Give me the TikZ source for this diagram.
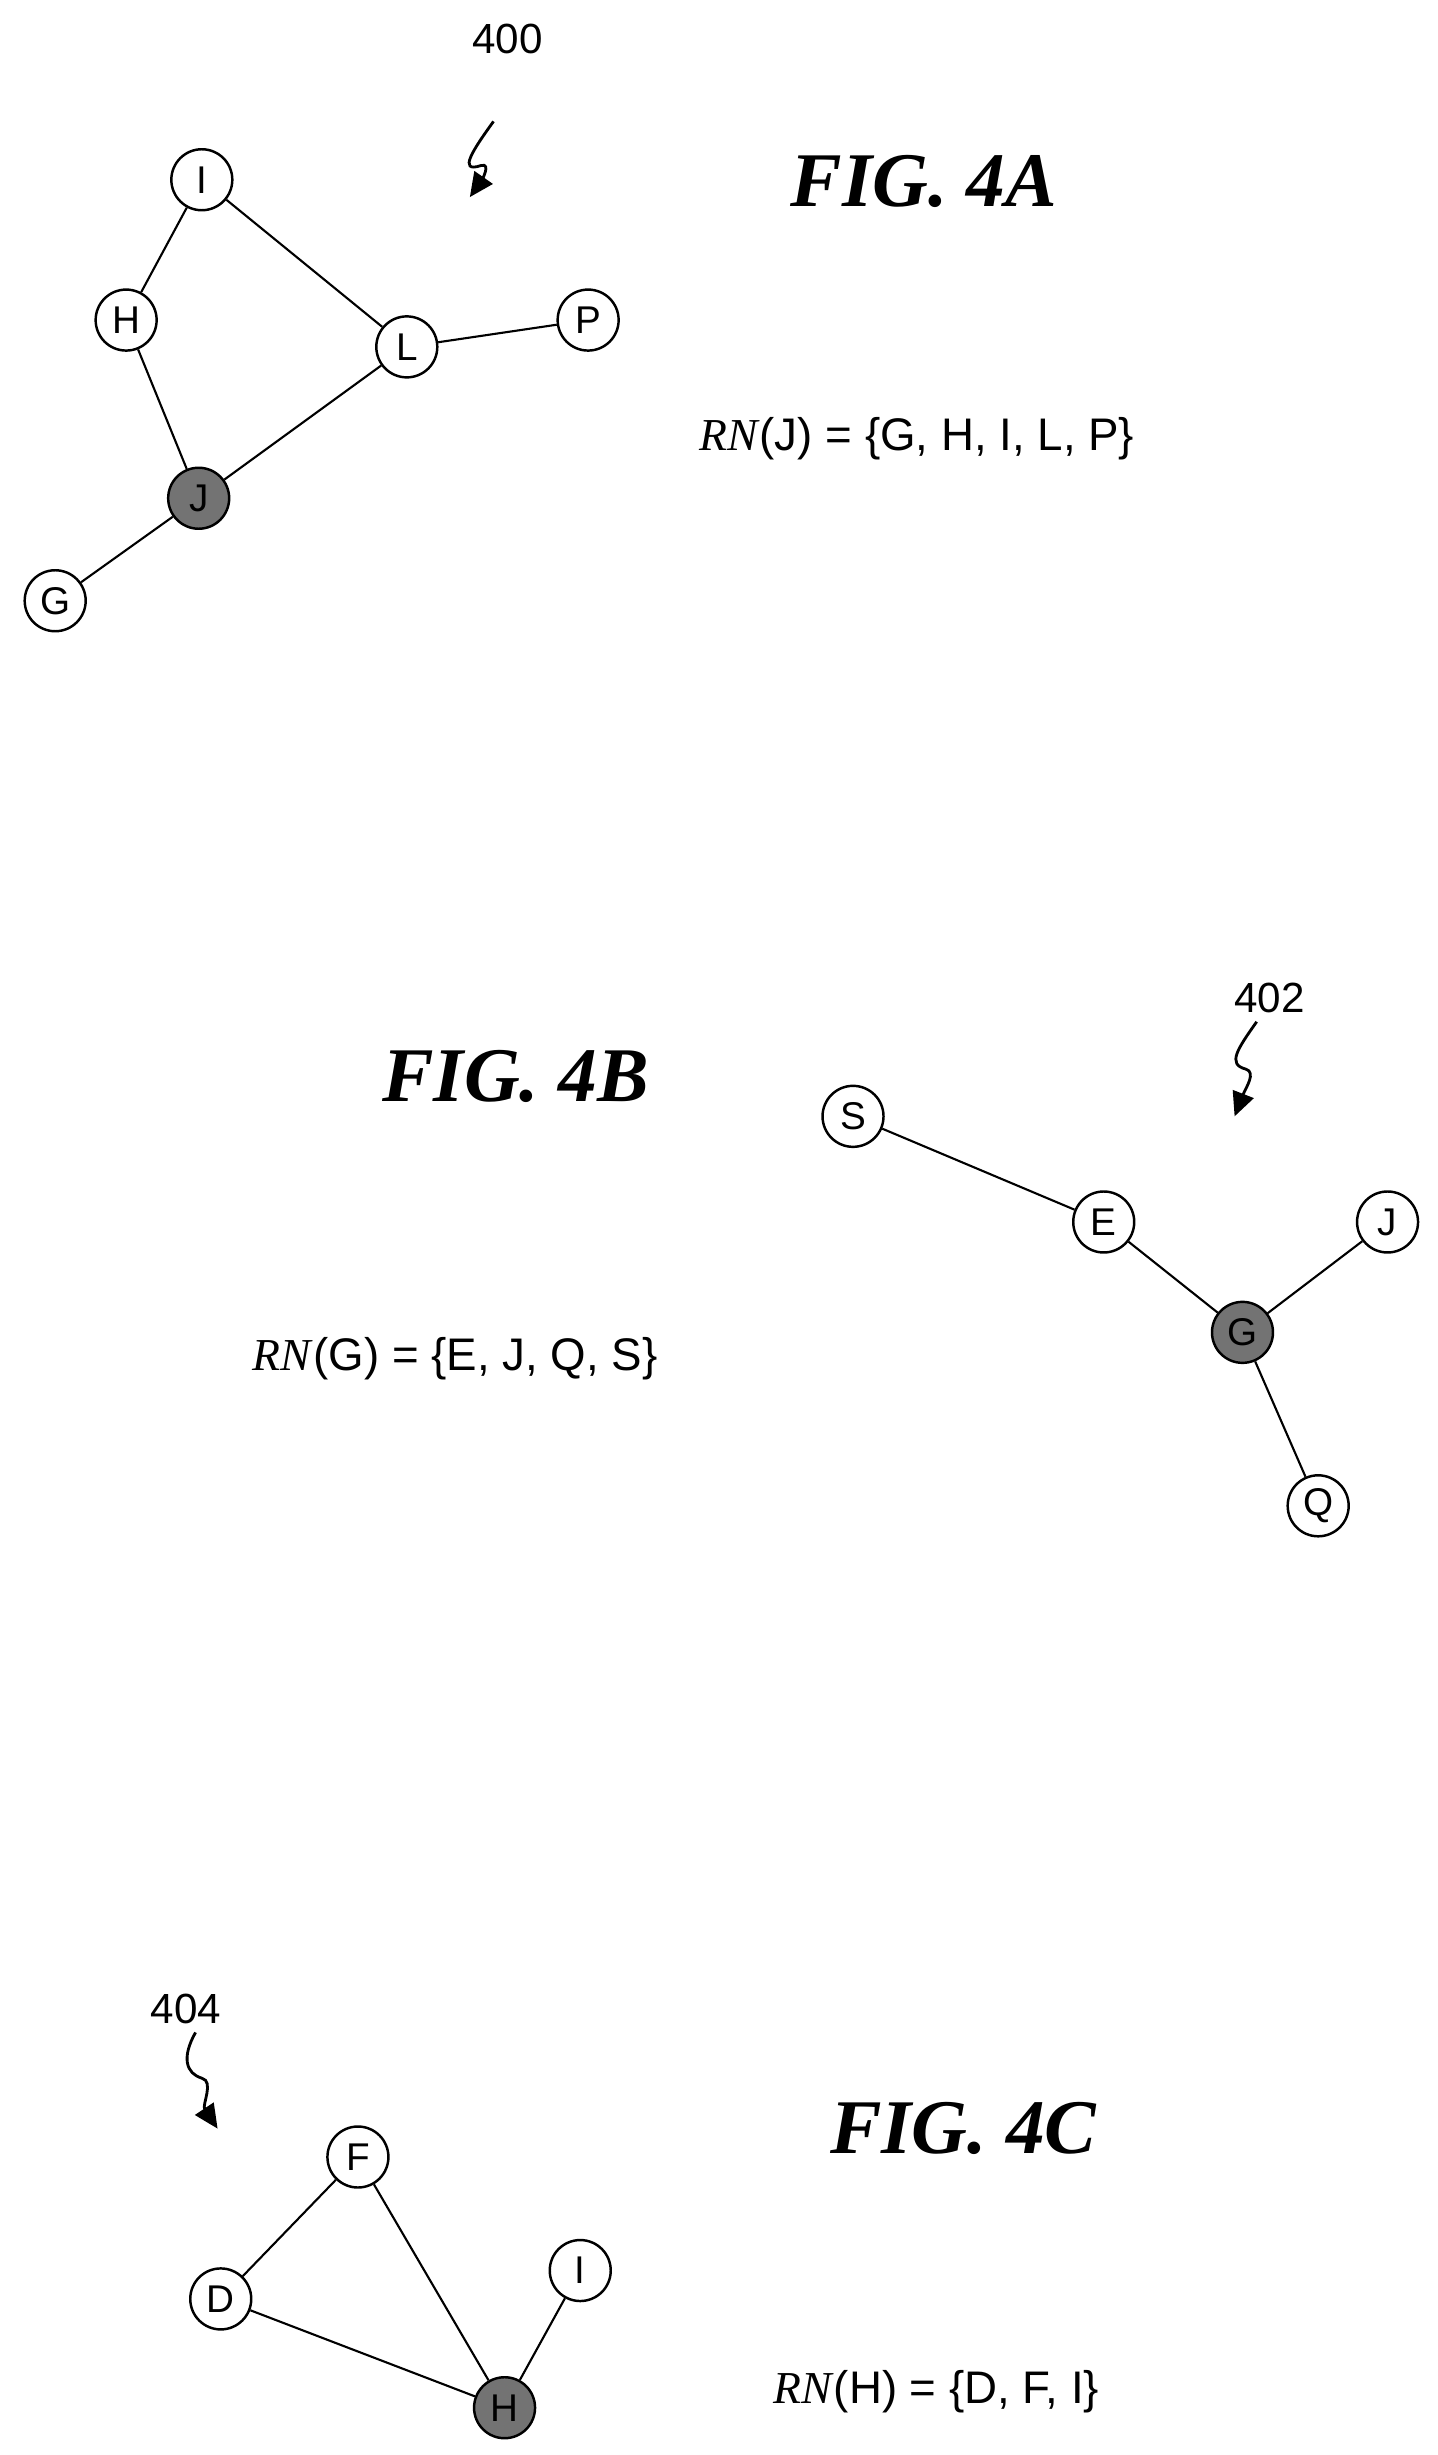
\documentclass[tikz,border=0pt]{standalone}
\usepackage{fontspec}
\setmainfont{Liberation Serif}
\newfontfamily\lsans{Liberation Sans}
\usetikzlibrary{arrows.meta}
\begin{document}
\begin{tikzpicture}[x=0.1577mm,y=-0.1577mm,
  vtx/.style={circle,draw,line width=0.7pt,minimum size=6.1mm,inner sep=0pt,font=\lsans\fontsize{11}{12}\selectfont},
  hot/.style={vtx,fill=black!55},
  edge/.style={line width=0.6pt},
  fig/.style={font=\fontsize{22}{24}\selectfont\bfseries\itshape},
  rn/.style={font=\lsans\fontsize{13}{15}\selectfont,anchor=west,inner sep=0pt},
  ref/.style={font=\lsans\fontsize{12}{13}\selectfont},
  sq/.style={line width=0.8pt,-{Triangle[length=2.4mm,width=2.2mm]}}]
\useasboundingbox (0,0) rectangle (912,1557);
% FIG 4A
\node[vtx] (I) at (128,114) {I};
\node[vtx] (H) at (80,203) {H};
\node[vtx] (L) at (258,220) {L};
\node[vtx] (P) at (373,203) {P};
\node[hot] (J) at (126,316) {J};
\node[vtx] (G) at (35,381) {G};
\draw[edge] (I)--(H) (I)--(L) (H)--(J) (J)--(L) (L)--(P) (J)--(G);
\node[ref] (n400) at (322,25) {400};
\coordinate (a0) at (313,77);
\coordinate (a1) at (298,125);
\draw[sq] (a0) .. controls (300,95) and (290,110) .. (305,105) .. controls (312,103) and (305,115) .. (a1);
\node[fig] (f4a) at (586,115) {FIG. 4A};
\node[rn] (rnj) at (443,278) {\textit{\fontspec{Liberation Serif}RN}(J) = \{G, H, I, L, P\}};
% FIG 4B
\node[vtx] (S) at (541,708) {S};
\node[vtx] (E) at (700,775) {E};
\node[vtx] (J2) at (880,775) {J};
\node[hot] (G2) at (788,845) {G};
\node[vtx] (Q) at (836,955) {Q};
\draw[edge] (S)--(E) (E)--(G2) (G2)--(J2) (G2)--(Q);
\node[ref] (n402) at (805,633) {402};
\coordinate (b0) at (797,648);
\coordinate (b1) at (783,708);
\draw[sq] (b0) .. controls (785,665) and (778,675) .. (790,678) .. controls (797,680) and (790,690) .. (b1);
\node[fig] (f4b) at (327,683) {FIG. 4B};
\node[rn] (rng) at (160,862) {\textit{\fontspec{Liberation Serif}RN}(G) = \{E, J, Q, S\}};
% FIG 4C
\node[vtx] (F) at (227,1368) {F};
\node[vtx] (I3) at (368,1440) {I};
\node[vtx] (D) at (140,1458) {D};
\node[hot] (H3) at (320,1527) {H};
\draw[edge] (F)--(D) (F)--(H3) (D)--(H3) (H3)--(I3);
\node[ref] (n404) at (118,1274) {404};
\coordinate (c0) at (124,1289);
\coordinate (c1) at (138,1350);
\draw[sq] (c0) .. controls (115,1305) and (118,1315) .. (128,1318) .. controls (136,1320) and (128,1335) .. (c1);
\node[fig] (f4c) at (611,1350) {FIG. 4C};
\node[rn] (rnh) at (490,1517) {\textit{\fontspec{Liberation Serif}RN}(H) = \{D, F, I\}};
\end{tikzpicture}
\end{document}
